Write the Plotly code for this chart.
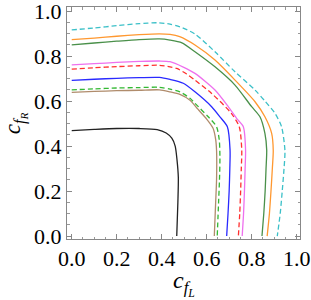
import plotly.graph_objects as go

# curve data (c_fL, c_fR)
cyan_x = [0, .1, .2, .3, .38, .437, .481, .548, .637, .726, .815, .859, .904, .933, .948, .944, .936, .927, .914]
cyan_y = [.916, .925, .935, .944, .948, .942, .93, .898, .819, .73, .649, .6, .545, .486, .38, .3, .2, .1, 0]

orange_x = [0, .1, .2, .3, .39, .437, .48, .548, .637, .726, .815, .859, .889, .896, .892, .886, .879, .869]
orange_y = [.873, .880, .888, .895, .899, .896, .886, .849, .782, .693, .597, .53, .456, .38, .3, .2, .1, 0]

green_x = [0, .1, .2, .3, .39, .437, .49, .548, .637, .726, .8, .837, .859, .867, .864, .86, .854, .846]
green_y = [.850, .858, .866, .873, .876, .871, .859, .819, .752, .671, .575, .53, .456, .382, .3, .2, .1, 0]

magenta_x = [0, .1, .2, .3, .39, .437, .496, .548, .637, .696, .733, .763, .773, .771, .768, .764, .758]
magenta_y = [.761, .766, .772, .776, .778, .775, .751, .723, .649, .575, .523, .486, .382, .3, .2, .1, 0]

red_x = [0, .1, .2, .3, .39, .437, .467, .511, .548, .622, .71, .745, .756, .754, .751, .747, .741]
red_y = [.742, .748, .753, .757, .759, .752, .745, .72, .693, .634, .545, .486, .382, .3, .2, .1, 0]

blue_x = [0, .1, .2, .3, .39, .437, .496, .548, .622, .659, .692, .704, .703, .700, .695, .689]
blue_y = [.692, .697, .701, .704, .705, .696, .679, .641, .575, .53, .486, .382, .3, .2, .1, 0]

gdash_x = [0, .1, .2, .3, .39, .437, .481, .526, .548, .607, .644, .656, .659, .657, .653, .647]
gdash_y = [.650, .654, .658, .660, .661, .653, .641, .612, .59, .53, .486, .427, .35, .25, .15, 0]

brown_x = [0, .1, .2, .3, .39, .437, .481, .526, .56, .60, .628, .64, .644, .644, .64, .634]
brown_y = [.639, .643, .646, .648, .650, .641, .63, .604, .565, .52, .48, .43, .38, .25, .15, 0]

black_x = [0, .1, .2, .3, .38, .42, .445, .46, .468, .474, .472, .467]
black_y = [.469, .474, .478, .478, .473, .458, .435, .40, .34, .26, .15, 0]

tickvals = [0, 0.2, 0.4, 0.6, 0.8, 1.0]
ticktext = ["0.0", "0.2", "0.4", "0.6", "0.8", "1.0"]
x_title = "<i>c</i><sub><i>f</i><sub><i>L</i></sub></sub>"
y_title = "<i>c</i><sub><i>f</i><sub><i>R</i></sub></sub>"

curves = [
    (black_x, black_y, "#222222", "solid"),
    (brown_x, brown_y, "#b08c6c", "solid"),
    (gdash_x, gdash_y, "#33b833", "dash"),
    (blue_x, blue_y, "#2a2aff", "solid"),
    (red_x, red_y, "#ff3030", "dash"),
    (magenta_x, magenta_y, "#ee70ee", "solid"),
    (green_x, green_y, "#4a904a", "solid"),
    (orange_x, orange_y, "#ff9830", "solid"),
    (cyan_x, cyan_y, "#3cc0c8", "dash"),
]

fig = go.Figure()
for xs, ys, col, dash in curves:
    fig.add_trace(go.Scatter(
        x=xs, y=ys, mode="lines",
        line=dict(color=col, width=1.3, dash="5px,3px" if dash == "dash" else "solid",
                  shape="spline", smoothing=0.7),
        showlegend=False, hoverinfo="skip"))

SERIF = "Times New Roman, Liberation Serif, Tinos, serif"
font = dict(family=SERIF, size=22, color="black")

axis_common = dict(
    tickvals=tickvals, ticktext=ticktext, ticks="inside", ticklen=5, tickwidth=1,
    tickcolor="#888888", showline=True, linecolor="#888888", linewidth=1, mirror="ticks",
    showgrid=False, zeroline=False, tickfont=font, automargin=False,
    ticklabeloverflow="allow",
    minor=dict(ticks="inside", dtick=0.05, tick0=0, ticklen=2.5, tickcolor="#999999", showgrid=False),
)

fig.update_layout(
    width=311, height=300,
    margin=dict(l=67, r=11, t=7, b=61),
    plot_bgcolor="white", paper_bgcolor="white",
    xaxis=dict(range=[-0.021, 1.015], **axis_common),
    yaxis=dict(range=[-0.013, 1.018], **axis_common),
    annotations=[
        dict(text=x_title, xref="paper", yref="paper", x=0.5, y=-0.19,
             xanchor="center", yanchor="middle", showarrow=False,
             font=dict(family=SERIF, size=24, color="black")),
        dict(text=y_title, xref="paper", yref="paper", x=-0.222, y=0.5,
             xanchor="center", yanchor="middle", showarrow=False, textangle=-90,
             font=dict(family=SERIF, size=23, color="black")),
    ],
)

fig.write_html("out.html", config={"displayModeBar": False},
               post_script="document.body.style.margin='0';document.body.style.padding='0';")
